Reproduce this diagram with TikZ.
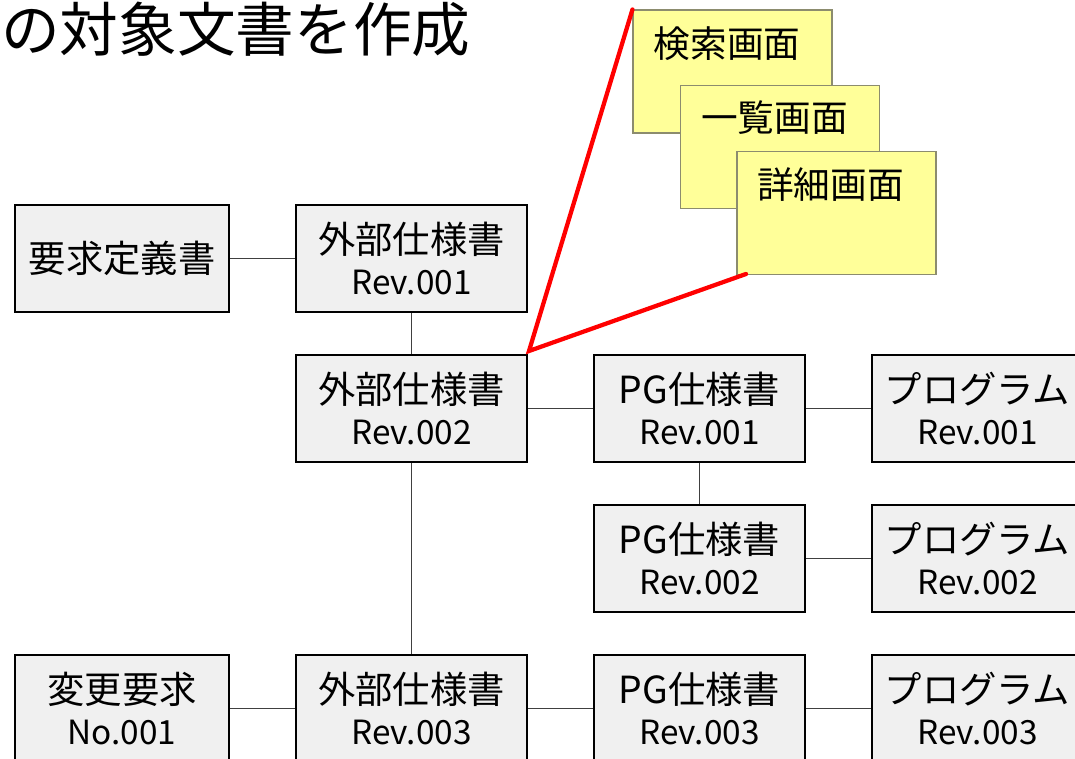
\documentclass[tikz,border=0pt]{standalone}
\usepackage{fontspec}
\setmainfont{Noto Sans CJK JP}
\definecolor{boxfill}{HTML}{F0F0F0}
\definecolor{notefill}{HTML}{FFFF99}
\definecolor{noteline}{HTML}{8C8C6E}
\definecolor{conn}{HTML}{404040}
\newcommand{\rv}[1]{{\fontsize{25}{31}\selectfont #1}}
\begin{document}
\begin{tikzpicture}[x=0.75pt,y=-0.75pt,
  docbox/.style={draw=black,line width=1.8pt,fill=boxfill,inner sep=0pt,
    minimum height=80.25pt,align=center,font=\fontsize{28}{31}\selectfont},
  wleft/.style={minimum width=160.5pt},
  wext/.style={minimum width=173.25pt},
  wpg/.style={minimum width=158.25pt},
  note/.style={draw=noteline,line width=0.8pt,fill=notefill,inner sep=0pt,
    minimum width=149.25pt,minimum height=92.25pt},
  notetext/.style={inner sep=0pt,font=\fontsize{27.5}{31}\selectfont},
  link/.style={draw=conn,line width=1.3pt},
  redline/.style={draw=red,line width=3.2pt,line cap=round}]
\useasboundingbox (0,0) rectangle (1075,759);
\clip (0,0) rectangle (1075,759);

% title
\node[anchor=base west,inner sep=0pt,font=\fontsize{44}{50}\selectfont] (title) at (1,52) {の対象文書を作成};

% document boxes
\node[docbox,wleft] (req) at (122,258.5) {要求定義書};
\node[docbox,wext] (e1) at (411.5,258.5) {外部仕様書\\\rv{Rev.001}};
\node[docbox,wext] (e2) at (411.5,408.5) {外部仕様書\\\rv{Rev.002}};
\node[docbox,wpg] (p1) at (699.5,408.5) {PG仕様書\\\rv{Rev.001}};
\node[docbox,wpg] (g1) at (977.5,408.5) {プログラム\\\rv{Rev.001}};
\node[docbox,wpg] (p2) at (699.5,558.5) {PG仕様書\\\rv{Rev.002}};
\node[docbox,wpg] (g2) at (977.5,558.5) {プログラム\\\rv{Rev.002}};
\node[docbox,wleft] (c1) at (122,708.5) {変更要求\\\rv{No.001}};
\node[docbox,wext] (e3) at (411.5,708.5) {外部仕様書\\\rv{Rev.003}};
\node[docbox,wpg] (p3) at (699.5,708.5) {PG仕様書\\\rv{Rev.003}};
\node[docbox,wpg] (g3) at (977.5,708.5) {プログラム\\\rv{Rev.003}};

% connectors
\draw[link] (req) -- (e1);
\draw[link] (e1) -- (e2);
\draw[link] (e2) -- (p1);
\draw[link] (p1) -- (g1);
\draw[link] (p1) -- (p2);
\draw[link] (p2) -- (g2);
\draw[link] (e2) -- (e3);
\draw[link] (c1) -- (e3);
\draw[link] (e3) -- (p3);
\draw[link] (p3) -- (g3);

% zoom lines
\coordinate (zc) at (529,351);
\coordinate (zend) at (746,274);

% notes
\node[note] (n1) at (732.5,71.5) {};
\node[notetext] (t1) at (727,44) {検索画面};
\node[note] (n2) at (780,147) {};
\node[notetext] (t2) at (774.5,118) {一覧画面};
\node[note] (n3) at (836.5,213) {};
\node[notetext] (t3) at (830.5,185) {詳細画面};

\draw[redline] (n1.north west) -- (zc) -- (zend);
\end{tikzpicture}
\end{document}
